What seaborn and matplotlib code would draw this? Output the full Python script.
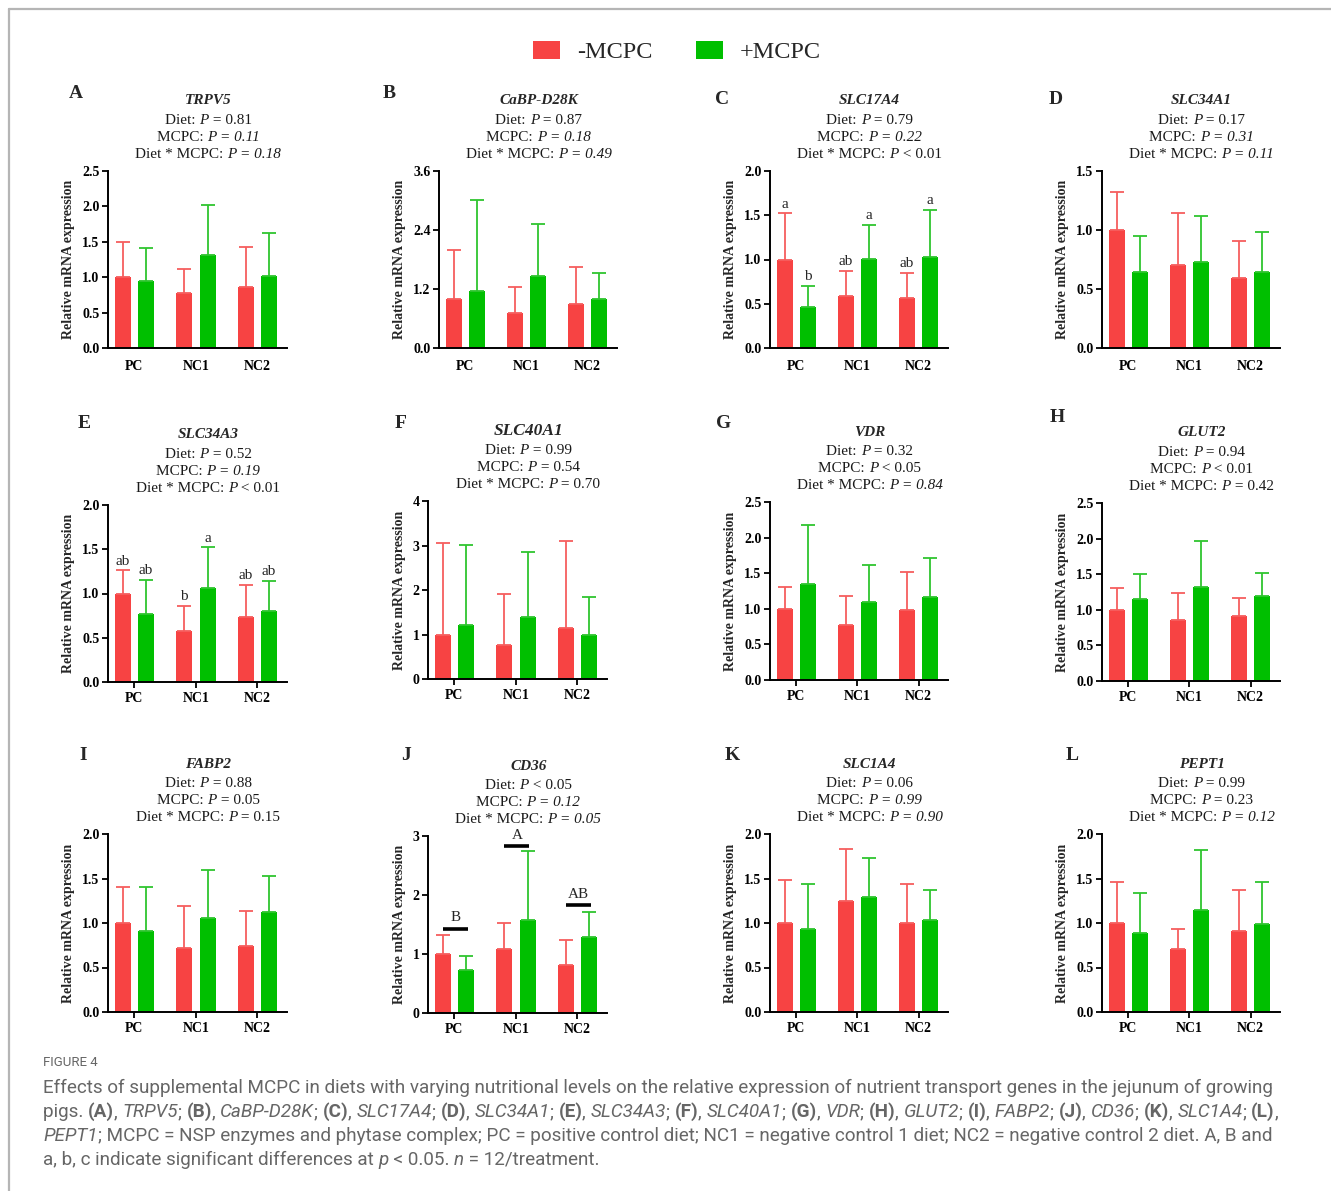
import re
import numpy as np
import pandas as pd
import matplotlib
matplotlib.use("Agg")
import matplotlib.pyplot as plt
from matplotlib.lines import Line2D
from matplotlib.ticker import FormatStrFormatter
import seaborn as sns

# ---------------------------------------------------------------- data
genes = ["TRPV5", "CaBP-D28K", "SLC17A4", "SLC34A1",
         "SLC34A3", "SLC40A1", "VDR", "GLUT2",
         "FABP2", "CD36", "SLC1A4", "PEPT1"]
panel_letters = list("ABCDEFGHIJKL")
diets = ["PC", "NC1", "NC2"]
treatments = ["-MCPC", "+MCPC"]

# mean relative expression (PC, NC1, NC2)
mean_minus = [
    [1.00, 0.77, 0.86], [1.00, 0.72, 0.90], [1.00, 0.59, 0.56], [1.00, 0.70, 0.59],
    [1.00, 0.58, 0.73], [1.00, 0.76, 1.14], [1.00, 0.77, 0.98], [1.00, 0.86, 0.91],
    [1.00, 0.72, 0.74], [1.00, 1.09, 0.82], [1.00, 1.25, 1.00], [1.00, 0.71, 0.91],
]
mean_plus = [
    [0.94, 1.31, 1.01], [1.16, 1.47, 0.99], [0.46, 1.01, 1.03], [0.64, 0.73, 0.64],
    [0.77, 1.06, 0.80], [1.21, 1.40, 0.99], [1.35, 1.10, 1.16], [1.15, 1.32, 1.19],
    [0.91, 1.06, 1.12], [0.73, 1.58, 1.29], [0.93, 1.29, 1.03], [0.89, 1.15, 0.99],
]
# standard deviations (upper error bars)
sd_minus = [
    [0.50, 0.35, 0.57], [1.00, 0.53, 0.74], [0.52, 0.28, 0.29], [0.32, 0.44, 0.32],
    [0.26, 0.28, 0.37], [2.06, 1.14, 1.97], [0.30, 0.41, 0.53], [0.30, 0.38, 0.26],
    [0.41, 0.47, 0.39], [0.33, 0.43, 0.41], [0.48, 0.58, 0.44], [0.46, 0.22, 0.46],
]
sd_plus = [
    [0.47, 0.71, 0.62], [1.86, 1.06, 0.54], [0.24, 0.38, 0.53], [0.31, 0.39, 0.34],
    [0.38, 0.46, 0.34], [1.80, 1.46, 0.86], [0.83, 0.51, 0.55], [0.35, 0.65, 0.32],
    [0.49, 0.53, 0.41], [0.23, 1.16, 0.42], [0.51, 0.44, 0.34], [0.45, 0.67, 0.47],
]

y_max = [2.5, 3.6, 2.0, 1.5, 2.0, 4, 2.5, 2.5, 2.0, 3, 2.0, 2.0]
y_step = [0.5, 1.2, 0.5, 0.5, 0.5, 1, 0.5, 0.5, 0.5, 1, 0.5, 0.5]

# <i>..</i> marks italic runs, <b>..</b> bold runs
p_diet = [
    "Diet: <i>P</i> = 0.81", "Diet: <i>P</i> = 0.87", "Diet: <i>P</i> = 0.79",
    "Diet: <i>P</i> = 0.17", "Diet: <i>P</i> = 0.52", "Diet: <i>P</i> = 0.99",
    "Diet: <i>P</i> = 0.32", "Diet: <i>P</i> = 0.94", "Diet: <i>P</i> = 0.88",
    "Diet: <i>P</i> < 0.05", "Diet: <i>P</i> = 0.06", "Diet: <i>P</i> = 0.99",
]
p_mcpc = [
    "MCPC: <i>P = 0.11</i>", "MCPC: <i>P = 0.18</i>", "MCPC: <i>P = 0.22</i>",
    "MCPC: <i>P = 0.31</i>", "MCPC: <i>P = 0.19</i>", "MCPC: <i>P</i> = 0.54",
    "MCPC: <i>P</i> < 0.05", "MCPC: <i>P</i> < 0.01", "MCPC: <i>P</i> = 0.05",
    "MCPC: <i>P = 0.12</i>", "MCPC: <i>P = 0.99</i>", "MCPC: <i>P</i> = 0.23",
]
p_inter = [
    "Diet * MCPC: <i>P = 0.18</i>", "Diet * MCPC: <i>P = 0.49</i>",
    "Diet * MCPC: <i>P</i> < 0.01", "Diet * MCPC: <i>P = 0.11</i>",
    "Diet * MCPC: <i>P</i> < 0.01", "Diet * MCPC: <i>P</i> = 0.70",
    "Diet * MCPC: <i>P = 0.84</i>", "Diet * MCPC: <i>P</i> = 0.42",
    "Diet * MCPC: <i>P</i> = 0.15", "Diet * MCPC: <i>P = 0.05</i>",
    "Diet * MCPC: <i>P = 0.90</i>", "Diet * MCPC: <i>P = 0.12</i>",
]

# significance letters per bar (-MCPC, +MCPC)
bar_letters = {
    "SLC17A4": (["a", "ab", "ab"], ["b", "a", "a"]),
    "SLC34A3": (["ab", "b", "ab"], ["ab", "a", "ab"]),
}
# diet-level letters for CD36 with bracket heights
cd36_letters = ["B", "A", "AB"]
cd36_bracket_y = [1.43, 2.83, 1.83]

caption_title = "FIGURE 4"
caption_lines = [
    "Effects of supplemental MCPC in diets with varying nutritional levels on the relative "
    "expression of nutrient transport genes in the jejunum of growing",
    "pigs. <b>(A)</b>, <i>TRPV5</i>; <b>(B)</b>, <i>CaBP-D28K</i>; <b>(C)</b>, <i>SLC17A4</i>; "
    "<b>(D)</b>, <i>SLC34A1</i>; <b>(E)</b>, <i>SLC34A3</i>; <b>(F)</b>, <i>SLC40A1</i>; "
    "<b>(G)</b>, <i>VDR</i>; <b>(H)</b>, <i>GLUT2</i>; <b>(I)</b>, <i>FABP2</i>; "
    "<b>(J)</b>, <i>CD36</i>; <b>(K)</b>, <i>SLC1A4</i>; <b>(L)</b>,",
    "<i>PEPT1</i>; MCPC = NSP enzymes and phytase complex; PC = positive control diet; "
    "NC1 = negative control 1 diet; NC2 = negative control 2 diet. A, B and",
    "a, b, c indicate significant differences at <i>p</i> < 0.05. <i>n</i> = 12/treatment.",
]

# ---------------------------------------------------------------- layout
W, H = 1331, 1191
RED, GREEN = "#F74343", "#00BF00"
RED_ERR, GREEN_ERR = "#F65E5E", "#2FC52F"

axes_px = [
    (108, 171, 287, 348), (439, 171, 617, 348), (770, 171, 948, 348), (1102, 171, 1280, 348),
    (108, 505, 287, 682), (428, 501, 607, 679), (770, 502, 948, 680), (1102, 503, 1280, 681),
    (108, 834, 287, 1012), (428, 836, 607, 1013), (770, 834, 948, 1012), (1102, 834, 1280, 1012),
]
letter_px = [
    (76, 93), (389, 93), (722, 100), (1056, 100),
    (84, 424), (401, 424), (724, 424), (1057, 417),
    (83, 755), (406, 755), (732, 755), (1072, 755),
]
title_size = [11, 11, 11, 11, 11, 12.5, 11, 11, 11, 11, 11, 11]

sns.set_style("ticks")
plt.rcParams["font.family"] = ["Liberation Serif", "DejaVu Serif"]

fig = plt.figure(figsize=(W / 100, H / 100), dpi=100)
renderer = fig.canvas.get_renderer()


def fx(x):
    return x / W


def fy(y):
    return 1 - y / H


def parse_runs(s):
    runs = []
    for part in re.split(r"(<i>.*?</i>|<b>.*?</b>)", s):
        if not part:
            continue
        if part.startswith("<i>"):
            runs.append((part[3:-4], {"fontstyle": "italic"}))
        elif part.startswith("<b>"):
            runs.append((part[3:-4], {"fontweight": "bold"}))
        else:
            runs.append((part, {}))
    return runs


def text_width(s, props):
    t1 = fig.text(0, 0, s + "x", **props)
    t2 = fig.text(0, 0, "x", **props)
    w = t1.get_window_extent(renderer).width - t2.get_window_extent(renderer).width
    t1.remove()
    t2.remove()
    return w


def rich_text(x_px, base_px, s, ha="left", **props):
    """Draw a line made of regular / italic / bold runs, on a common baseline."""
    runs = parse_runs(s)
    widths = [text_width(txt, {**props, **st}) for txt, st in runs]
    pos = x_px - sum(widths) / 2 if ha == "center" else x_px
    for (txt, st), w in zip(runs, widths):
        fig.text(fx(pos), fy(base_px), txt, ha="left", va="baseline", **{**props, **st})
        pos += w


palette = {treatments[0]: RED, treatments[1]: GREEN}
err_colors = {RED: RED_ERR, GREEN: GREEN_ERR}
legend_handles = None

for k, gene in enumerate(genes):
    l, t, r, b = axes_px[k]
    ax = fig.add_axes([fx(l), fy(b), (r - l) / W, (b - t) / H])
    df = pd.DataFrame({
        "Diet": diets * 2,
        "Treatment": [treatments[0]] * 3 + [treatments[1]] * 3,
        "Expression": mean_minus[k] + mean_plus[k],
        "SD": sd_minus[k] + sd_plus[k],
    })
    sns.barplot(data=df, x="Diet", y="Expression", hue="Treatment",
                order=diets, hue_order=treatments, palette=palette,
                width=0.76, gap=0.32, saturation=1, errorbar=None,
                linewidth=0, ax=ax, legend=(k == 0))
    if k == 0:
        legend_handles = ax.get_legend_handles_labels()
        ax.get_legend().remove()

    # upper-only SD bars on each drawn bar
    for p in list(ax.patches):
        if p.get_width() == 0 or p.get_height() == 0:
            continue
        xc = p.get_x() + p.get_width() / 2
        di = int(round(xc))
        tr = 0 if xc < di else 1
        row = tr * 3 + di
        col = err_colors[RED if tr == 0 else GREEN]
        ax.errorbar(xc, p.get_height(), yerr=[[0], [df["SD"][row]]], fmt="none",
                    ecolor=col, elinewidth=1.3, capsize=5, capthick=1.3, zorder=1)
        if gene in bar_letters:
            ax.annotate(bar_letters[gene][tr][di],
                        (xc, df["Expression"][row] + df["SD"][row]),
                        xytext=(0, 2), textcoords="offset points",
                        ha="center", va="bottom", fontsize=11)

    if gene == "CD36":
        for i, (lab, yb) in enumerate(zip(cd36_letters, cd36_bracket_y)):
            ax.hlines(yb, i - 0.19, i + 0.22, color="black", lw=2.6)
            ax.annotate(lab, (i + 0.02, yb), xytext=(0, 3), textcoords="offset points",
                        ha="center", va="bottom", fontsize=11)

    ax.set_ylim(0, y_max[k])
    ax.set_yticks(np.arange(0, y_max[k] + 1e-9, y_step[k]))
    ax.yaxis.set_major_formatter(FormatStrFormatter("%d" if y_step[k] == 1 else "%.1f"))
    ax.set_xlim(-0.43, 2.48)
    ax.set_xlabel("")
    ax.set_ylabel("Relative mRNA expression", fontsize=10, fontweight="bold", labelpad=5)
    sns.despine(ax=ax)
    for s in ("left", "bottom"):
        ax.spines[s].set_linewidth(1.4)
        ax.spines[s].set_color("black")
    ax.tick_params(axis="y", length=4, width=1.3, pad=2, labelsize=10, colors="black")
    if k < 4:
        ax.tick_params(axis="x", length=0, pad=9, labelsize=10, colors="black")
    else:
        ax.tick_params(axis="x", length=4, width=1.3, pad=3, labelsize=10, colors="black")
    for lbl in ax.get_xticklabels() + ax.get_yticklabels():
        lbl.set_fontweight("bold")

    # title block above each panel
    cx = l + 0.56 * (r - l)
    fig.text(fx(cx), fy(t - 70), gene, ha="center", va="center", fontsize=title_size[k],
             fontweight="bold", fontstyle="italic")
    for dy, s in ((52, p_diet[k]), (35, p_mcpc[k]), (18, p_inter[k])):
        rich_text(cx, t - dy + 5, s, ha="center", fontsize=11, color="#1a1a1a")
    lx, ly = letter_px[k]
    fig.text(fx(lx), fy(ly), panel_letters[k], ha="center", va="center",
             fontsize=14, fontweight="bold")

# shared legend
fig.legend(legend_handles[0], legend_handles[1], loc="center",
           bbox_to_anchor=(fx(677), fy(52)), ncol=2, frameon=False,
           prop={"family": "Liberation Serif", "size": 17.5},
           handlelength=1.1, handleheight=0.75, handletextpad=0.7,
           columnspacing=1.8)

# frame
fig.add_artist(Line2D([fx(9), fx(9)], [fy(9), 0], color="#b5b5b5", lw=1.6))
fig.add_artist(Line2D([fx(9), 1], [fy(9), fy(9)], color="#b5b5b5", lw=1.6))

# caption
cap_props = {"family": ["Roboto", "Liberation Sans", "DejaVu Sans"], "color": "#666666"}
fig.text(fx(43), fy(1063), caption_title, ha="left", va="center", fontsize=9.5,
         **cap_props)
for i, line in enumerate(caption_lines):
    rich_text(43, 1093 + 24 * i, line, fontsize=13.55, **cap_props)

fig.savefig("out.png", dpi=100)
